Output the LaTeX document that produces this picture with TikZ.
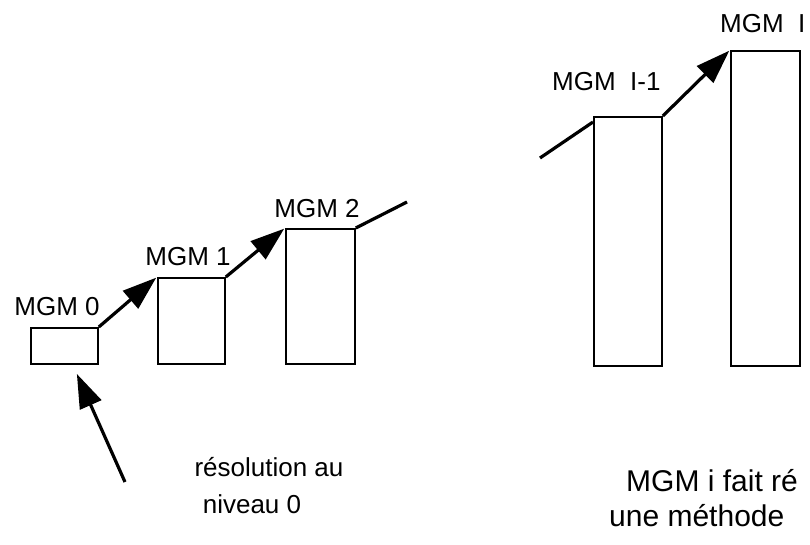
\documentclass[tikz,border=0pt]{standalone}
\usepackage{fontspec}
\setmainfont{Liberation Sans}
\usetikzlibrary{arrows.meta,calc}
\begin{document}
\begin{tikzpicture}[x=1pt,y=-1pt,
  box/.style={draw, line width=1.8pt, inner sep=0pt, anchor=north west, rectangle},
  ln/.style={line width=3.2pt},
  arr/.style={line width=3.2pt, -{Triangle[length=34pt,width=23pt]}, shorten >=1pt},
  lab/.style={font=\fontsize{26}{30}\selectfont, inner sep=0pt},
  big/.style={font=\fontsize{30}{36}\selectfont, inner sep=0pt}]
\useasboundingbox (0,0) rectangle (810,544);
% boxes
\node[box, minimum width=67pt, minimum height=36pt] (b0) at (30,327) {};
\node[box, minimum width=67pt, minimum height=86pt] (b1) at (157,277) {};
\node[box, minimum width=69pt, minimum height=135pt] (b2) at (285,228) {};
\node[box, minimum width=68pt, minimum height=249pt] (bI1) at (593,116) {};
\node[box, minimum width=69pt, minimum height=315pt] (bI) at (730,50) {};
% free ends
\coordinate (e2) at (407,202);
\coordinate (sI) at (540,158);
\coordinate (t0) at (125,482);
% connectors
\draw[arr] (b0.north east) -- (b1.north west);
\draw[arr] (b1.north east) -- (b2.north west);
\draw[ln] (b2.north east) -- (e2);
\draw[ln] (sI) -- ([yshift=-6pt]bI1.north west);
\draw[arr] (bI1.north east) -- (bI.north west);
\draw[arr, shorten >=10pt] (t0) -- (b0);
% labels
\node[lab, anchor=base] (l0) at (57,315) {MGM 0};
\node[lab, anchor=base] (l1) at (188,265) {MGM 1};
\node[lab, anchor=base] (l2) at (317,217) {MGM 2};
\node[lab, anchor=base west] (lI1) at (552,90) {MGM\ \ I-1};
\node[lab, anchor=base west] (lI) at (720,32) {MGM\ \ I};
\node[lab, anchor=base] (r1) at (269,476) {résolution au};
\node[lab, anchor=base] (r2) at (252,513) {niveau 0};
\node[big, anchor=base west] (m1) at (626,491) {MGM i fait ré};
\node[big, anchor=base west] (m2) at (609,526) {une méthode};
\end{tikzpicture}
\end{document}
